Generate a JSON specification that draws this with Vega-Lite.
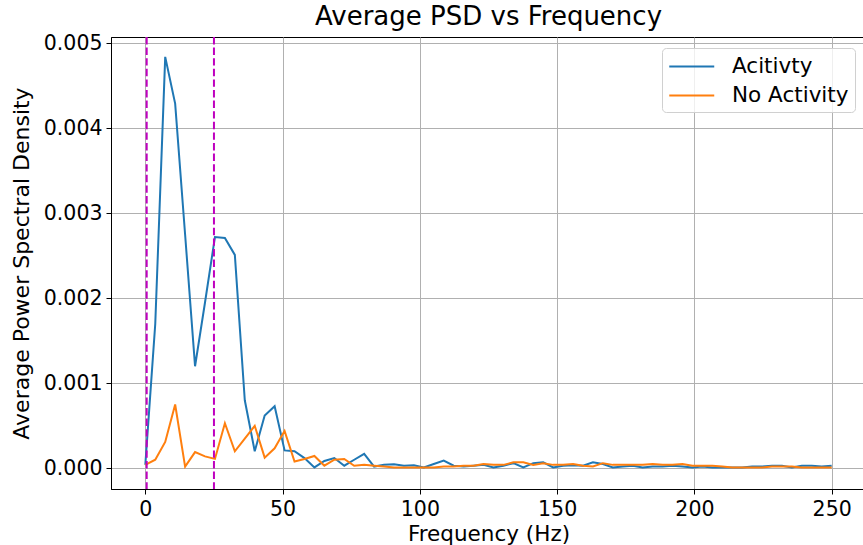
{
  "$schema": "https://vega.github.io/schema/vega-lite/v6.json",
  "width": 755,
  "height": 452,
  "autosize": "none",
  "padding": {"left": 111, "top": 37, "right": 0, "bottom": 56},
  "background": "white",
  "title": {"text": "Average PSD vs Frequency", "font": "DejaVu Sans", "fontSize": 26, "fontWeight": "normal", "color": "black", "offset": 3},
  "config": {
    "view": {"stroke": "black", "strokeWidth": 1},
    "font": "DejaVu Sans",
    "axis": {"labelFont": "DejaVu Sans", "titleFont": "DejaVu Sans", "labelFontSize": 20.5, "titleFontWeight": "normal", "labelColor": "black", "titleColor": "black", "domainColor": "black", "tickColor": "black", "tickSize": 5, "gridColor": "#b0b0b0", "gridWidth": 1}
  },
  "datasets": {
    "psd": [
      {"f": 0, "Acitivty": 0.00004, "No Activity": 0.00004},
      {"f": 3.623, "Acitivty": 0.0017, "No Activity": 0.0001},
      {"f": 7.246, "Acitivty": 0.00484, "No Activity": 0.00031},
      {"f": 10.870, "Acitivty": 0.00429, "No Activity": 0.00075},
      {"f": 14.493, "Acitivty": 0.00275, "No Activity": 0.00002},
      {"f": 18.116, "Acitivty": 0.0012, "No Activity": 0.00019},
      {"f": 21.739, "Acitivty": 0.00195, "No Activity": 0.00014},
      {"f": 25.362, "Acitivty": 0.00272, "No Activity": 0.00011},
      {"f": 28.986, "Acitivty": 0.00271, "No Activity": 0.00053},
      {"f": 32.609, "Acitivty": 0.00251, "No Activity": 0.0002},
      {"f": 36.232, "Acitivty": 0.0008, "No Activity": 0.00035},
      {"f": 39.855, "Acitivty": 0.0002, "No Activity": 0.0005},
      {"f": 43.478, "Acitivty": 0.00062, "No Activity": 0.000125},
      {"f": 47.101, "Acitivty": 0.00073, "No Activity": 0.000235},
      {"f": 50.725, "Acitivty": 0.00021, "No Activity": 0.00044},
      {"f": 54.348, "Acitivty": 0.0002, "No Activity": 0.00008},
      {"f": 57.971, "Acitivty": 0.00012, "No Activity": 0.00011},
      {"f": 61.594, "Acitivty": 0.00001, "No Activity": 0.000145},
      {"f": 65.217, "Acitivty": 0.000086, "No Activity": 0.00003},
      {"f": 68.841, "Acitivty": 0.00012, "No Activity": 0.0001},
      {"f": 72.464, "Acitivty": 0.00003, "No Activity": 0.00011},
      {"f": 76.087, "Acitivty": 0.0001, "No Activity": 0.00003},
      {"f": 79.710, "Acitivty": 0.00017, "No Activity": 0.00004},
      {"f": 83.333, "Acitivty": 0.00002, "No Activity": 0.00003},
      {"f": 86.957, "Acitivty": 0.00004, "No Activity": 0.00002},
      {"f": 90.580, "Acitivty": 0.000047, "No Activity": 0.00001},
      {"f": 94.203, "Acitivty": 0.00003, "No Activity": 0.00001},
      {"f": 97.826, "Acitivty": 0.000035, "No Activity": 0.00001},
      {"f": 101.449, "Acitivty": 0.00001, "No Activity": 0.00001},
      {"f": 105.072, "Acitivty": 0.00005, "No Activity": 0.00001},
      {"f": 108.696, "Acitivty": 0.00009, "No Activity": 0.00002},
      {"f": 112.319, "Acitivty": 0.00003, "No Activity": 0.00002},
      {"f": 115.942, "Acitivty": 0.00002, "No Activity": 0.00003},
      {"f": 119.565, "Acitivty": 0.00003, "No Activity": 0.00003},
      {"f": 123.188, "Acitivty": 0.00004, "No Activity": 0.00005},
      {"f": 126.812, "Acitivty": 0.00001, "No Activity": 0.00004},
      {"f": 130.435, "Acitivty": 0.00003, "No Activity": 0.00004},
      {"f": 134.058, "Acitivty": 0.00006, "No Activity": 0.00007},
      {"f": 137.681, "Acitivty": 0.00001, "No Activity": 0.00007},
      {"f": 141.304, "Acitivty": 0.00006, "No Activity": 0.00004},
      {"f": 144.928, "Acitivty": 0.00007, "No Activity": 0.00006},
      {"f": 148.551, "Acitivty": 0.00001, "No Activity": 0.00004},
      {"f": 152.174, "Acitivty": 0.00003, "No Activity": 0.00004},
      {"f": 155.797, "Acitivty": 0.000035, "No Activity": 0.00005},
      {"f": 159.420, "Acitivty": 0.00003, "No Activity": 0.00003},
      {"f": 163.043, "Acitivty": 0.00007, "No Activity": 0.00002},
      {"f": 166.667, "Acitivty": 0.00005, "No Activity": 0.00006},
      {"f": 170.290, "Acitivty": 0.00001, "No Activity": 0.00004},
      {"f": 173.913, "Acitivty": 0.00002, "No Activity": 0.00004},
      {"f": 177.536, "Acitivty": 0.00003, "No Activity": 0.00004},
      {"f": 181.159, "Acitivty": 0.00001, "No Activity": 0.00004},
      {"f": 184.783, "Acitivty": 0.00002, "No Activity": 0.00005},
      {"f": 188.406, "Acitivty": 0.00002, "No Activity": 0.00004},
      {"f": 192.029, "Acitivty": 0.00003, "No Activity": 0.00004},
      {"f": 195.652, "Acitivty": 0.00002, "No Activity": 0.00005},
      {"f": 199.275, "Acitivty": 0.00001, "No Activity": 0.00003},
      {"f": 202.899, "Acitivty": 0.00002, "No Activity": 0.00003},
      {"f": 206.522, "Acitivty": 0.00001, "No Activity": 0.00003},
      {"f": 210.145, "Acitivty": 0.00001, "No Activity": 0.00002},
      {"f": 213.768, "Acitivty": 0.00001, "No Activity": 0.00001},
      {"f": 217.391, "Acitivty": 0.00001, "No Activity": 0.00001},
      {"f": 221.014, "Acitivty": 0.00002, "No Activity": 0.00001},
      {"f": 224.638, "Acitivty": 0.00002, "No Activity": 0.00001},
      {"f": 228.261, "Acitivty": 0.00003, "No Activity": 0.00002},
      {"f": 231.884, "Acitivty": 0.00003, "No Activity": 0.00002},
      {"f": 235.507, "Acitivty": 0.00001, "No Activity": 0.00002},
      {"f": 239.130, "Acitivty": 0.00003, "No Activity": 0.00001},
      {"f": 242.754, "Acitivty": 0.00003, "No Activity": 0.00001},
      {"f": 246.377, "Acitivty": 0.00002, "No Activity": 0.00001},
      {"f": 250.000, "Acitivty": 0.00003, "No Activity": 0.00001}
    ],
    "marks": [{"f": 0.5}, {"f": 25}]
  },
  "layer": [
    {
      "data": {"name": "psd"},
      "transform": [{"fold": ["Acitivty", "No Activity"], "as": ["series", "psd"]}],
      "mark": {"type": "line", "strokeWidth": 2},
      "encoding": {
        "x": {"field": "f", "type": "quantitative", "title": "Frequency (Hz)",
              "scale": {"domain": [-12.5, 262.5], "nice": false, "zero": false},
              "axis": {"values": [0, 50, 100, 150, 200, 250], "grid": true, "titleFontSize": 21.5, "titlePadding": 4, "labelPadding": 5}},
        "y": {"field": "psd", "type": "quantitative", "title": "Average Power Spectral Density",
              "scale": {"domain": [-0.000244, 0.005074], "nice": false, "zero": false},
              "axis": {"values": [0, 0.001, 0.002, 0.003, 0.004, 0.005], "format": ".3f", "grid": true, "titleFontSize": 22, "titlePadding": 10, "labelPadding": 4}},
        "color": {"field": "series", "type": "nominal",
                  "scale": {"domain": ["Acitivty", "No Activity"], "range": ["#1f77b4", "#ff7f0e"]},
                  "legend": {"title": null, "orient": "top-right", "offset": 11, "symbolType": "M-1,0H3", "symbolSize": 506, "symbolStrokeWidth": 2,
                             "labelFontSize": 21.5, "labelFont": "DejaVu Sans", "labelColor": "black", "rowPadding": 6,
                             "fillColor": "rgba(255,255,255,0.8)", "strokeColor": "#d0d0d0", "cornerRadius": 4, "padding": 6, "labelOffset": 39}}
      }
    },
    {
      "data": {"name": "marks"},
      "mark": {"type": "rule", "color": "#bf00bf", "strokeWidth": 2, "strokeDash": [7.4, 3.2]},
      "encoding": {"x": {"field": "f", "type": "quantitative"}}
    }
  ]
}
